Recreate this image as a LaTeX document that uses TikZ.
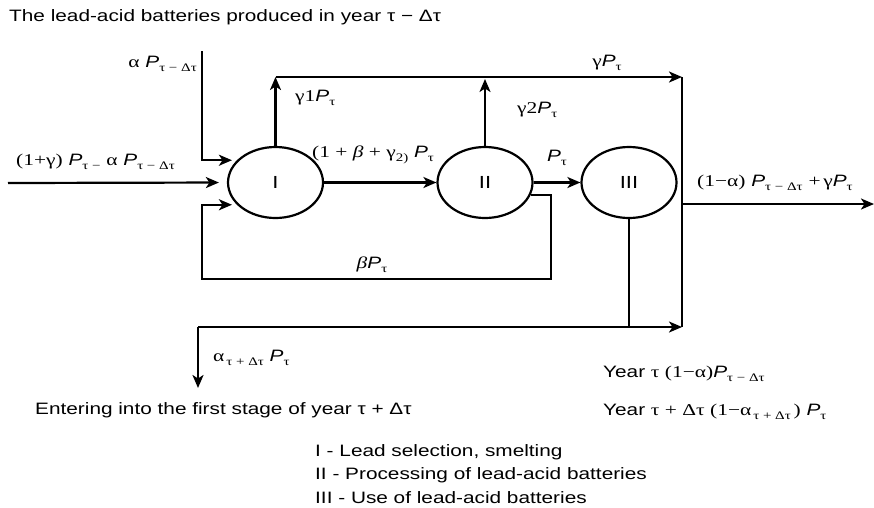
\documentclass[tikz,border=0pt]{standalone}
\usepackage{fontspec}
\setmainfont{Liberation Sans}[FakeStretch=1.26]
\newfontfamily\gr{Liberation Serif}[FakeStretch=1.3]
\usetikzlibrary{arrows.meta,shapes.geometric}
\newcommand{\sbs}[1]{\raisebox{-0.45ex}{\fontsize{11.5}{11.5}\selectfont #1}}
\newcommand{\PP}[1]{\textit{P}\sbs{\gr #1}}
\begin{document}
\begin{tikzpicture}[x=1pt,y=-1pt,
  every node/.style={font=\fontsize{16.5}{19}\selectfont},
  wire/.style={line width=2.2pt},
  arr/.style={wire,-{Stealth[length=13pt,width=11pt,inset=3.5pt]}},
  stage/.style={ellipse,draw,line width=2.2pt,minimum width=95pt,minimum height=71pt,inner sep=0pt,font=\fontsize{17.5}{19}\selectfont},
  lbl/.style={inner sep=0pt,anchor=west},
  clbl/.style={inner sep=0pt}]
\useasboundingbox (0,0) rectangle (874,507);
% stages
\node[stage] (eI) at (275.5,182.5) {I};
\node[stage] (eII) at (485,182.5) {II};
\node[stage] (eIII) at (629,182.5) {III};
% coordinates
\coordinate (in0) at (8,183);
\coordinate (aTop) at (202,51);
\coordinate (t1) at (275.5,77);
\coordinate (t2) at (682,77);
\coordinate (t3) at (485,77);
\coordinate (fbR) at (551,279);
\coordinate (fbL) at (202,279);
\coordinate (j1) at (629,327);
\coordinate (bl) at (198,327);
\coordinate (br) at (682,327);
\coordinate (dn) at (198,388);
\coordinate (o1) at (682,204);
\coordinate (o2) at (874,204);
% connectors
\draw[arr,shorten >=8pt] (in0) -- (eI.west);
\draw[arr,shorten >=5pt] (aTop) |- (eI.150);
\draw[arr] (eI.north) -- (t1);
\draw[arr] (t1) -- (t2);
\draw[arr,shorten >=2pt] (eII.north) -- (t3);
\draw[arr] (eI.east) -- (eII.west);
\draw[arr] (eII.east) -- (eIII.west);
\draw[arr,shorten >=5pt] (eII.-15) -| (fbR) -- (fbL) |- (eI.210);
\draw[wire] (eIII.south) -- (j1);
\draw[arr] (bl) -- (br);
\draw[arr] (bl) -- (dn);
\draw[wire] (t2) -- (br);
\draw[arr] (o1) -- (o2);
% labels
\node[lbl] (title) at (9,17) {The lead-acid batteries produced in year τ − Δτ};
\node[inner sep=0pt,anchor=east] (la) at (197,64) {{\gr α} \PP{τ − Δτ}};
\node[lbl] (lg1) at (295,98) {{\gr γ1}\PP{τ}};
\node[lbl] (lin) at (16,162) {{\gr (1+γ)} \PP{τ −} {\gr α} \PP{τ − Δτ}};
\node[lbl] (l12) at (312,155) {{\gr (1 + \textit{β} + γ\sbs{2)}} \PP{τ}};
\node[clbl] (lb) at (372,265) {{\gr\textit{β}}\PP{τ}};
\node[clbl] (lg) at (607,63) {{\gr γ}\PP{τ}};
\node[lbl] (lg2) at (517,110) {{\gr γ2}\PP{τ}};
\node[clbl] (lp) at (557,158) {\PP{τ}};
\node[lbl] (lout) at (697,183) {{\gr (1−α)} \PP{τ − Δτ} {\gr +\,γ}\PP{τ}};
\node[lbl] (ldn) at (213,358) {{\gr α}\sbs{\gr\,τ + Δτ} \PP{τ}};
\node[lbl] (lent) at (35,410) {Entering into the first stage of year τ + Δτ};
\node[lbl] (ly1) at (603,374) {Year {\gr τ (1−α)}\PP{τ − Δτ}};
\node[lbl] (ly2) at (603,412) {Year {\gr τ + Δτ (1−α}\sbs{\gr\,τ + Δτ}{\gr\,)} \PP{τ}};
\node[lbl] (leg1) at (315,452) {I - Lead selection, smelting};
\node[lbl] (leg2) at (315,475) {II - Processing of lead-acid batteries};
\node[lbl] (leg3) at (315,498) {III - Use of lead-acid batteries};
\end{tikzpicture}
\end{document}
